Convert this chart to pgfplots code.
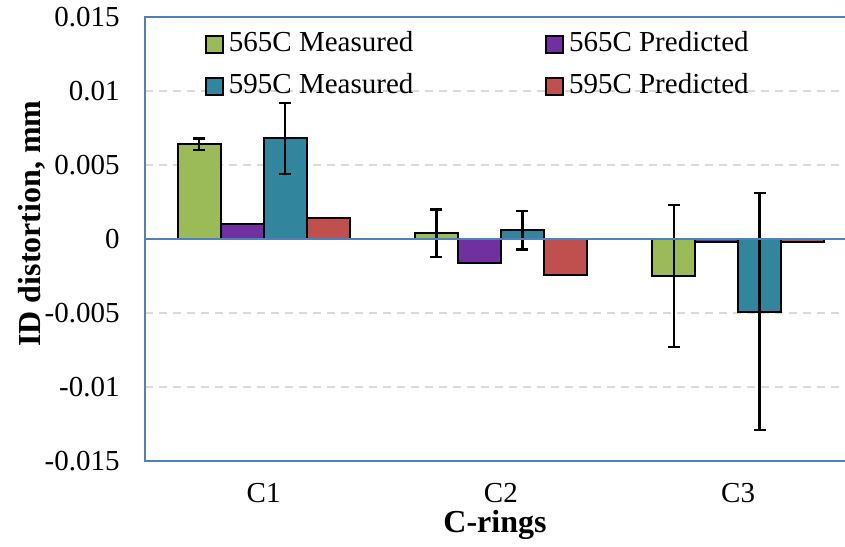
\documentclass[border=0pt]{standalone}
\usepackage{fontspec}
\setmainfont{Liberation Serif}
\usepackage{pgfplots}
\pgfplotsset{compat=1.18}

\definecolor{msgreen}{RGB}{155,187,89}
\definecolor{mspurple}{RGB}{112,48,160}
\definecolor{msteal}{RGB}{49,133,156}
\definecolor{msred}{RGB}{192,80,77}
\definecolor{axisblue}{RGB}{79,129,189}
\definecolor{gridgray}{RGB}{217,217,217}

\begin{document}
\begin{tikzpicture}
\begin{axis}[
    name=ax,
    scale only axis,
    width=350pt, height=222pt,
    xmin=-0.5, xmax=2.4505,
    ymin=-0.015, ymax=0.015,
    clip=false,
    axis line style={draw=none},
    major tick length=0pt,
    xtick={0,1,2},
    xticklabels={C1,C2,C3},
    ytick={-0.015,-0.01,-0.005,0,0.005,0.01,0.015},
    yticklabels={-0.015,-0.01,-0.005,0,0.005,0.01,0.015},
    scaled y ticks=false,
    tick label style={font=\fontsize{14.5}{17}\selectfont},
    xticklabel style={anchor=base, inner sep=0pt, yshift=-20.5pt},
    yticklabel style={anchor=east, inner sep=0pt, xshift=-12.5pt},
    ymajorgrids,
    grid style={gridgray, line width=0.75pt, dash pattern=on 4pt off 3pt},
    xlabel={C-rings},
    ylabel={ID distortion, mm},
    every axis x label/.style={at={(axis description cs:0.5,-0.162)}, anchor=base,
        font=\fontsize{16}{19}\selectfont\bfseries},
    every axis y label/.style={at={(axis description cs:-0.15,0.535)}, rotate=90, anchor=base,
        font=\fontsize{16}{19}\selectfont\bfseries},
    ybar, bar width=0.181,
    every axis plot/.append style={draw=black, line width=1pt},
    error bars/y dir=both, error bars/y explicit,
    error bars/error bar style={black, line width=1.2pt},
    error bars/error mark options={black, line width=1.2pt, mark size=3pt, rotate=90},
    legend columns=2,
    legend image code/.code={\draw[#1, line width=0.9pt] (0pt,-4.2pt) rectangle (8.4pt,4.2pt);},
    legend style={at={(axis description cs:0.0857,0.97)}, anchor=north west,
        draw=none, fill=none, inner sep=0pt, row sep=7pt,
        font=\fontsize{14.5}{17}\selectfont,
        nodes={inner sep=0pt, text height=10.5pt, text depth=3.5pt},
        /tikz/every odd column/.append style={column sep=2.5pt},
        /tikz/every even column/.append style={column sep=66pt}},
]
% 565C measured
\addplot[fill=msgreen, bar shift=-0.2715] coordinates {
    (0,0.0064) +- (0,0.0004)
    (1,0.0004) +- (0,0.0016)
    (2,-0.0025) +- (0,0.0048)
};
% 565C predicted
\addplot[fill=mspurple, bar shift=-0.0905, error bars/y dir=none] coordinates {
    (0,0.0010)
    (1,-0.0016)
    (2,-0.0002)
};
% 595C measured
\addplot[fill=msteal, bar shift=0.0905] coordinates {
    (0,0.0068) +- (0,0.0024)
    (1,0.0006) +- (0,0.0013)
    (2,-0.0049) +- (0,0.0080)
};
% 595C predicted
\addplot[fill=msred, bar shift=0.2715, error bars/y dir=none] coordinates {
    (0,0.0014)
    (1,-0.0024)
    (2,-0.0002)
};
\legend{565C Measured,565C Predicted,595C Measured,595C Predicted}

\draw[axisblue, line width=1pt] (axis cs:-0.5,0) -- (axis cs:2.4505,0);
\draw[axisblue, line width=1.2pt] (rel axis cs:1,1) -- (rel axis cs:0,1)
    -- (rel axis cs:0,0) -- (rel axis cs:1,0);
\end{axis}
\pgfresetboundingbox
\path[use as bounding box] ([xshift=-72.5pt,yshift=-42.5pt]ax.south west)
    rectangle ([yshift=8.5pt]ax.north east);
\end{tikzpicture}
\end{document}
